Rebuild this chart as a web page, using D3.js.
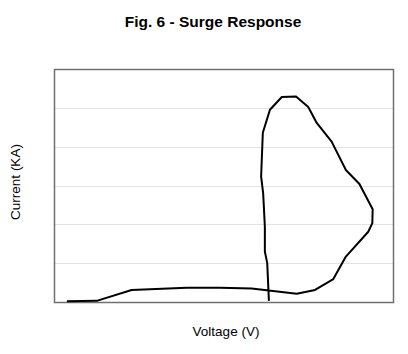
<!DOCTYPE html>
<html>
<head>
<meta charset="utf-8">
<script src="https://cdn.jsdelivr.net/npm/d3@7"></script>
<style>
  body { margin: 0; background: #fff; }
  text { font-family: "Liberation Sans", Arial, sans-serif; fill: #000; }
</style>
</head>
<body>
<svg id="chart" width="408" height="354"></svg>
<script>
// surge response curve, voltage (arbitrary 0-100) vs current (0-6)
const voltage = [3.8, 12.6, 22.9, 39.1, 49.0, 58.3, 71.6, 77.0, 82.4, 86.1, 92.7, 93.9, 94.0,
    90.1, 86.1, 81.9, 77.5, 75.0, 71.4, 67.2, 63.7, 61.6, 61.1, 61.7, 62.2, 62.2, 62.9, 63.4];
const current = [0.02, 0.03, 0.31, 0.37, 0.37, 0.35, 0.21, 0.31, 0.59, 1.17, 1.81, 2.03, 2.39,
    3.04, 3.40, 4.13, 4.61, 5.02, 5.29, 5.28, 4.95, 4.36, 3.23, 2.80, 1.94, 1.30, 1.00, 0.03];
const gridValues = [1, 2, 3, 4, 5];

const svg = d3.select("#chart");
const margin = { left: 54, top: 69, right: 15, bottom: 52 };
const width = +svg.attr("width");
const height = +svg.attr("height");

const x = d3.scaleLinear().domain([0, 100]).range([margin.left, width - margin.right]);
const y = d3.scaleLinear().domain([0, 6]).range([height - margin.bottom, margin.top]);

// gridlines
svg.selectAll("line.grid")
    .data(gridValues)
    .enter()
    .append("line")
    .attr("class", "grid")
    .attr("x1", x(0))
    .attr("x2", x(100))
    .attr("y1", d => Math.round(y(d)) + 0.5)
    .attr("y2", d => Math.round(y(d)) + 0.5)
    .attr("stroke", "#e3e3e3")
    .attr("stroke-width", 1);

// plot border
svg.append("rect")
    .attr("x", Math.round(x(0)) + 0.5)
    .attr("y", Math.round(y(6)) + 0.5)
    .attr("width", Math.round(x(100) - x(0)))
    .attr("height", Math.round(y(0) - y(6)))
    .attr("fill", "none")
    .attr("stroke", "#707070")
    .attr("stroke-width", 1.5);

// curve
const line = d3.line()
    .x((d, i) => x(voltage[i]))
    .y((d, i) => y(current[i]));

svg.append("path")
    .datum(voltage)
    .attr("d", line)
    .attr("fill", "none")
    .attr("stroke", "#000")
    .attr("stroke-width", 2)
    .attr("stroke-linejoin", "round");

// title and axis labels
svg.append("text")
    .attr("x", 213)
    .attr("y", 27)
    .attr("text-anchor", "middle")
    .style("font-size", "15.5px")
    .style("font-weight", "bold")
    .text("Fig. 6 - Surge Response");

svg.append("text")
    .attr("x", 226)
    .attr("y", 336)
    .attr("text-anchor", "middle")
    .style("font-size", "13.5px")
    .text("Voltage (V)");

svg.append("text")
    .attr("transform", "translate(20,182) rotate(-90)")
    .attr("text-anchor", "middle")
    .style("font-size", "13.5px")
    .text("Current (KA)");
</script>
</body>
</html>
